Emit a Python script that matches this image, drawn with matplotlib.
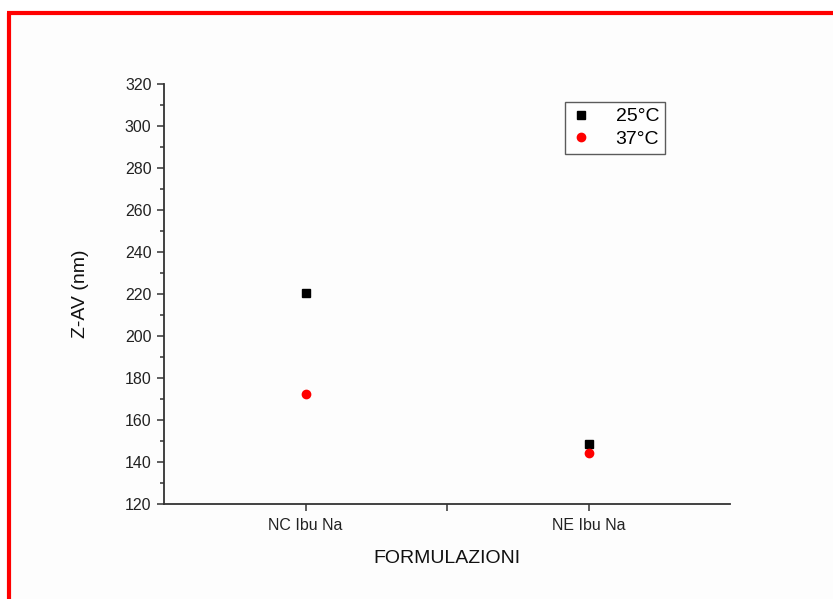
import matplotlib
matplotlib.use("Agg")
import matplotlib.pyplot as plt
from matplotlib.lines import Line2D
from matplotlib.ticker import MultipleLocator

plt.rcParams['font.family'] = ['Liberation Sans', 'DejaVu Sans']

categories = ["NC Ibu Na", "NE Ibu Na"]
temp_labels = ["25°C", "37°C"]
z_25 = [220.5, 148.6]
z_37 = [172.4, 144.3]

fig = plt.figure(figsize=(8.33, 5.99), dpi=100)
fig.patch.set_facecolor('white')

# background panel and red frame
fig.add_artist(plt.Rectangle((9/833, 0), 1, 1 - 14/599, transform=fig.transFigure,
                             facecolor='#fdfdfd', edgecolor='none', zorder=-5))
fig.add_artist(Line2D([8.5/833, 8.5/833], [0, 1 - 13/599], transform=fig.transFigure,
                      color='#ff0000', lw=3.0, solid_capstyle='butt'))
fig.add_artist(Line2D([7/833, 1], [1 - 13/599, 1 - 13/599], transform=fig.transFigure,
                      color='#ff0000', lw=3.0, solid_capstyle='butt'))

ax = fig.add_axes([164/833, 1 - 504/599, (730 - 164)/833, (504 - 84)/599])
ax.set_facecolor('none')

x = list(range(1, len(categories) + 1))
ax.plot(x, z_25, linestyle='none', marker='s', color='black', markersize=5.5, label=temp_labels[0])
ax.plot(x, z_37, linestyle='none', marker='o', color='#ff0000', markersize=6, label=temp_labels[1])

ax.set_xlim(0.5, 2.5)
ax.set_ylim(120, 320)
ax.set_xticks([1, 1.5, 2])
ax.set_xticklabels([categories[0], "", categories[1]])
ax.yaxis.set_major_locator(MultipleLocator(20))
ax.yaxis.set_minor_locator(MultipleLocator(10))

for s in ['top', 'right']:
    ax.spines[s].set_visible(False)
for s in ['left', 'bottom']:
    ax.spines[s].set_linewidth(1.3)
    ax.spines[s].set_color('#333333')

ax.tick_params(axis='both', which='major', direction='out', length=5, width=1.1,
               color='#333333', labelsize=11.5, labelcolor='#222222')
ax.tick_params(axis='y', which='minor', direction='out', length=3, width=1.1, color='#333333')
ax.tick_params(axis='x', pad=5)
ax.tick_params(axis='y', pad=4)

ax.set_xlabel("FORMULAZIONI", fontsize=14, labelpad=12, color='#111111')
ax.set_ylabel("Z-AV (nm)", fontsize=14, labelpad=26, color='#111111')

leg = ax.legend(loc='upper left', bbox_to_anchor=((565 - 164)/566, (504 - 102)/420),
                frameon=True, fancybox=False, fontsize=14, handlelength=1.0,
                handletextpad=1.3, borderpad=0.3, labelspacing=0.25, borderaxespad=0)
leg.get_frame().set_edgecolor('#333333')
leg.get_frame().set_linewidth(1.0)

fig.savefig("out.png", dpi=100)
